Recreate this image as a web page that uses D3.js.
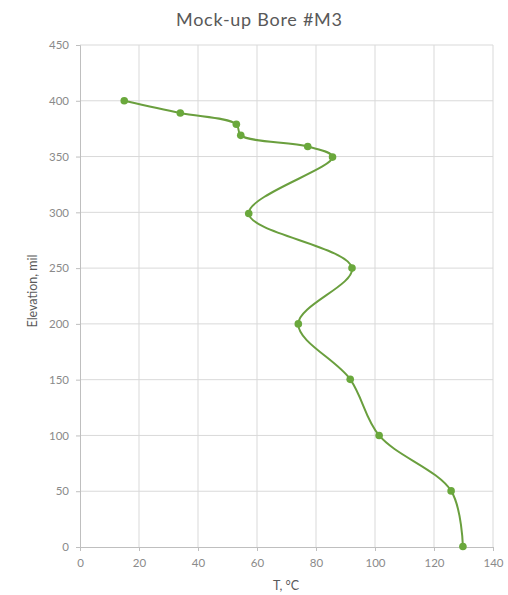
<!DOCTYPE html>
<html><head><meta charset="utf-8">
<script src="https://cdn.jsdelivr.net/npm/d3@7"></script>
<style>body{margin:0;background:#fff}</style>
</head><body>
<svg id="c" width="508" height="595"></svg>
<script>
const temperature = [15, 34, 53, 54.5, 77.2, 85.6, 57.2, 92.2, 74, 91.6, 101.4, 125.8, 129.8];
const elevation   = [400, 389, 379, 369, 359, 349.5, 299, 250, 200, 150.3, 100, 50.3, 0.5];
const xTicks = [0, 20, 40, 60, 80, 100, 120, 140];
const yTicks = [0, 50, 100, 150, 200, 250, 300, 350, 400, 450];
const title = "Mock-up Bore #M3";
const xTitle = "T, °C";
const yTitle = "Elevation, mil";

const svg = d3.select("#c");
const font = "Lato, 'Open Sans', sans-serif";
const x = d3.scaleLinear().domain([0, 140]).range([80, 493]);
const y = d3.scaleLinear().domain([0, 450]).range([547, 45]);

// gridlines
svg.append("g").selectAll("line.v").data(xTicks.slice(1)).join("line")
  .attr("x1", d => x(d)).attr("x2", d => x(d)).attr("y1", y(0)).attr("y2", y(450))
  .attr("stroke", "#d9d9d9").attr("stroke-width", 1);
svg.append("g").selectAll("line.h").data(yTicks.slice(1)).join("line")
  .attr("x1", x(0)).attr("x2", x(140)).attr("y1", d => y(d)).attr("y2", d => y(d))
  .attr("stroke", "#d9d9d9").attr("stroke-width", 1);

// axes
const xAxis = d3.axisBottom(x).tickValues(xTicks).tickSize(4).tickPadding(8);
const yAxis = d3.axisLeft(y).tickValues(yTicks).tickSize(4).tickPadding(7);
const gx = svg.append("g").attr("transform", `translate(0,${y(0)})`).call(xAxis);
const gy = svg.append("g").attr("transform", `translate(${x(0)},0)`).call(yAxis);
[gx, gy].forEach(g => {
  g.select(".domain").attr("stroke", "#bfbfbf");
  g.selectAll(".tick line").attr("stroke", "#bfbfbf");
  g.selectAll(".tick text").attr("fill", "#8a8a8a").attr("font-size", 11.5).attr("font-family", font);
});

// line
const pts = temperature.map((t, i) => [t, elevation[i]]);
const line = d3.line().x(d => x(d[0])).y(d => y(d[1])).curve(d3.curveCatmullRom.alpha(0.5));
svg.append("path").datum(pts).attr("d", line)
  .attr("fill", "none").attr("stroke", "#6a9f3e").attr("stroke-width", 2);
svg.append("g").selectAll("circle").data(pts).join("circle")
  .attr("cx", d => x(d[0])).attr("cy", d => y(d[1])).attr("r", 3.8)
  .attr("fill", "#6aa83c");

// titles
svg.append("text").attr("x", 259).attr("y", 26).attr("text-anchor", "middle")
  .attr("font-family", font).attr("font-size", 18).attr("fill", "#595959")
  .attr("textLength", 166).attr("lengthAdjust", "spacing").text(title);
svg.append("text").attr("x", 286).attr("y", 590).attr("text-anchor", "middle")
  .attr("font-family", font).attr("font-size", 12.5).attr("fill", "#595959").text(xTitle);
svg.append("text").attr("transform", `translate(37,${(y(0)+y(450))/2 - 5}) rotate(-90)`).attr("text-anchor", "middle")
  .attr("font-family", font).attr("font-size", 12.5).attr("fill", "#595959").text(yTitle);
</script>
</body></html>
